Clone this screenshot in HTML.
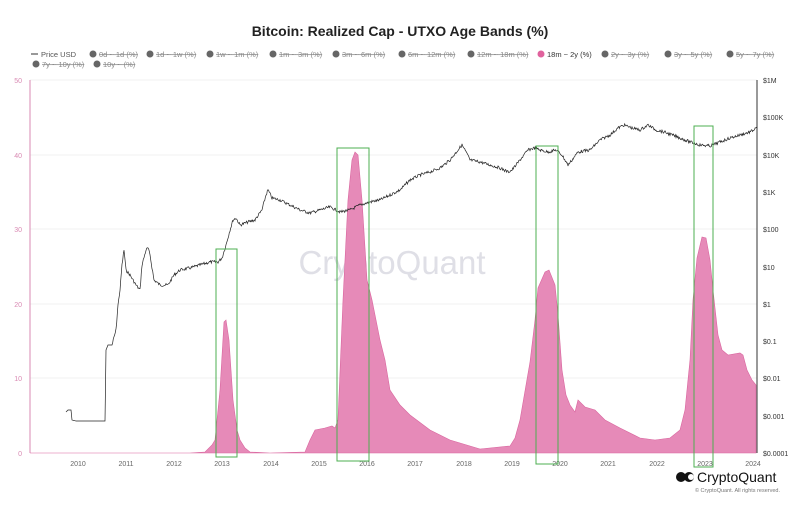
<!DOCTYPE html><html><head><style>body{margin:0;background:#fff;font-family:"Liberation Sans",sans-serif}</style></head><body>
<svg width="800" height="504" xmlns="http://www.w3.org/2000/svg" font-family="Liberation Sans, sans-serif">
<rect width="800" height="504" fill="#fff"/>
<text x="400" y="36" text-anchor="middle" font-size="14" font-weight="bold" fill="#222">Bitcoin: Realized Cap - UTXO Age Bands (%)</text>
<g font-size="7.5" fill="#555">
<line x1="31" y1="54" x2="38" y2="54" stroke="#333"/><text x="41" y="57">Price USD</text>
<g fill="#666"><circle cx="93" cy="54" r="3.5"/><circle cx="150" cy="54" r="3.5"/><circle cx="210" cy="54" r="3.5"/><circle cx="273" cy="54" r="3.5"/><circle cx="336" cy="54" r="3.5"/><circle cx="402" cy="54" r="3.5"/><circle cx="471" cy="54" r="3.5"/><circle cx="605" cy="54" r="3.5"/><circle cx="668" cy="54" r="3.5"/><circle cx="730" cy="54" r="3.5"/><circle cx="36" cy="64" r="3.5"/><circle cx="97" cy="64" r="3.5"/></g>
<circle cx="541" cy="54" r="3.5" fill="#e0629d"/>
<g text-decoration="line-through" fill="#888">
<text x="99" y="57">0d ~ 1d (%)</text><text x="156" y="57">1d ~ 1w (%)</text><text x="216" y="57">1w ~ 1m (%)</text><text x="279" y="57">1m ~ 3m (%)</text><text x="342" y="57">3m ~ 6m (%)</text><text x="408" y="57">6m ~ 12m (%)</text><text x="477" y="57">12m ~ 18m (%)</text><text x="611" y="57">2y ~ 3y (%)</text><text x="674" y="57">3y ~ 5y (%)</text><text x="736" y="57">5y ~ 7y (%)</text><text x="42" y="67">7y ~ 10y (%)</text><text x="103" y="67">10y ~ (%)</text></g>
<text x="547" y="57" fill="#333">18m ~ 2y (%)</text>
</g>
<g stroke="#f0f0f0"><line x1="30" y1="80" x2="757" y2="80"/><line x1="30" y1="155" x2="757" y2="155"/><line x1="30" y1="229" x2="757" y2="229"/><line x1="30" y1="304" x2="757" y2="304"/><line x1="30" y1="378" x2="757" y2="378"/></g>
<line x1="30" y1="80" x2="30" y2="453" stroke="#d98ab3"/>
<line x1="757" y1="80" x2="757" y2="453" stroke="#333"/>
<g font-size="7" fill="#d98ab3" text-anchor="end"><text x="22" y="83">50</text><text x="22" y="158">40</text><text x="22" y="232">30</text><text x="22" y="307">20</text><text x="22" y="381">10</text><text x="22" y="456">0</text></g>
<g font-size="7" fill="#333"><text x="763" y="83">$1M</text><text x="763" y="120">$100K</text><text x="763" y="158">$10K</text><text x="763" y="195">$1K</text><text x="763" y="232">$100</text><text x="763" y="270">$10</text><text x="763" y="307">$1</text><text x="763" y="344">$0.1</text><text x="763" y="381">$0.01</text><text x="763" y="419">$0.001</text><text x="763" y="456">$0.0001</text></g>
<g font-size="7" fill="#666" text-anchor="middle"><text x="78" y="466">2010</text><text x="126" y="466">2011</text><text x="174" y="466">2012</text><text x="222" y="466">2013</text><text x="271" y="466">2014</text><text x="319" y="466">2015</text><text x="367" y="466">2016</text><text x="415" y="466">2017</text><text x="464" y="466">2018</text><text x="512" y="466">2019</text><text x="560" y="466">2020</text><text x="608" y="466">2021</text><text x="657" y="466">2022</text><text x="705" y="466">2023</text><text x="753" y="466">2024</text></g>
<text x="392" y="274" text-anchor="middle" font-size="33" fill="#dfdfe6">CryptoQuant</text>
<polygon fill="#e68ab8" stroke="#d9669f" stroke-width="0.6" points="30,453 190,453 205,452 212,445 215,440 220,390 224,322 226,320 229,340 233,400 237,430 240,440 245,448 250,452 270,453 305,452 310,440 315,430 325,428 332,426 335,428 338,420 343,300 348,200 352,160 355,152 358,155 362,200 367,280 372,300 380,340 385,360 390,390 400,405 410,415 430,430 450,440 470,446 480,449 510,446 515,438 520,420 530,362 535,320 538,288 545,272 549,270 555,285 558,315 562,370 566,395 570,405 575,412 578,400 585,407 595,410 605,420 620,428 640,438 655,440 670,438 680,430 685,410 690,360 693,300 697,258 702,237 706,238 710,260 713,290 718,335 722,350 728,355 740,353 743,355 747,370 752,380 756,385 756,453"/>
<polyline id="price" fill="none" stroke="#222" stroke-width="0.7" points="66,412 68,410 71,410 72,420 76,421 105,421 106,350 108,345 112,345 116,330 118,305 120,290 122,265 124,250 126,270 130,275 136,285 140,290 142,265 146,250 148,248 150,255 154,280 160,285 168,285 174,275 180,270 190,268 200,265 210,262 218,262 222,258 226,245 230,230 233,220 236,218 240,225 248,222 255,220 262,210 266,195 268,190 272,198 280,200 290,205 300,210 310,213 320,210 330,207 340,212 350,210 360,205 370,202 380,200 390,195 400,190 410,180 420,175 430,172 440,168 450,160 458,150 462,145 466,152 470,160 480,162 490,165 500,168 508,172 512,170 520,160 528,150 534,148 540,150 548,152 556,150 562,155 568,165 572,160 578,152 590,150 600,140 610,135 618,128 624,125 632,128 640,130 648,125 656,130 664,132 672,135 680,138 690,142 700,145 710,146 720,142 730,138 740,135 750,132 757,128"/>
<g fill="none" stroke="#4caf50" stroke-width="1"><rect x="216" y="249" width="21" height="208"/><rect x="337" y="148" width="32" height="313"/><rect x="536" y="146" width="22" height="318"/><rect x="694" y="126" width="19" height="341"/></g>
<circle cx="681" cy="477" r="5" fill="#111"/><circle cx="689" cy="477" r="5" fill="#111"/><circle cx="691" cy="477" r="3" fill="#fff"/>
<text x="697" y="482" font-size="14" fill="#111">CryptoQuant</text>
<text x="780" y="492" font-size="5.5" fill="#777" text-anchor="end">© CryptoQuant. All rights reserved.</text>
</svg>
<script>
(function(){var p=document.getElementById('price');var pts=p.getAttribute('points').trim().split(/\s+/).map(function(s){return s.split(',').map(Number)});var out=[];var seed=7;function r(){seed=(seed*9301+49297)%233280;return seed/233280-0.5;}
for(var i=0;i<pts.length-1;i++){var a=pts[i],b=pts[i+1];var n=Math.max(1,Math.round((b[0]-a[0])*1.5));var big=(b[0]-a[0])>20&&a[1]===b[1];for(var k=0;k<n;k++){var t=k/n;var x=a[0]+(b[0]-a[0])*t,y=a[1]+(b[1]-a[1])*t;if(!big&&a[0]>110)y+=r()*3;out.push(x.toFixed(1)+','+y.toFixed(1));}}
var l=pts[pts.length-1];out.push(l[0]+','+l[1]);p.setAttribute('points',out.join(' '));})();
</script>
</body></html>
